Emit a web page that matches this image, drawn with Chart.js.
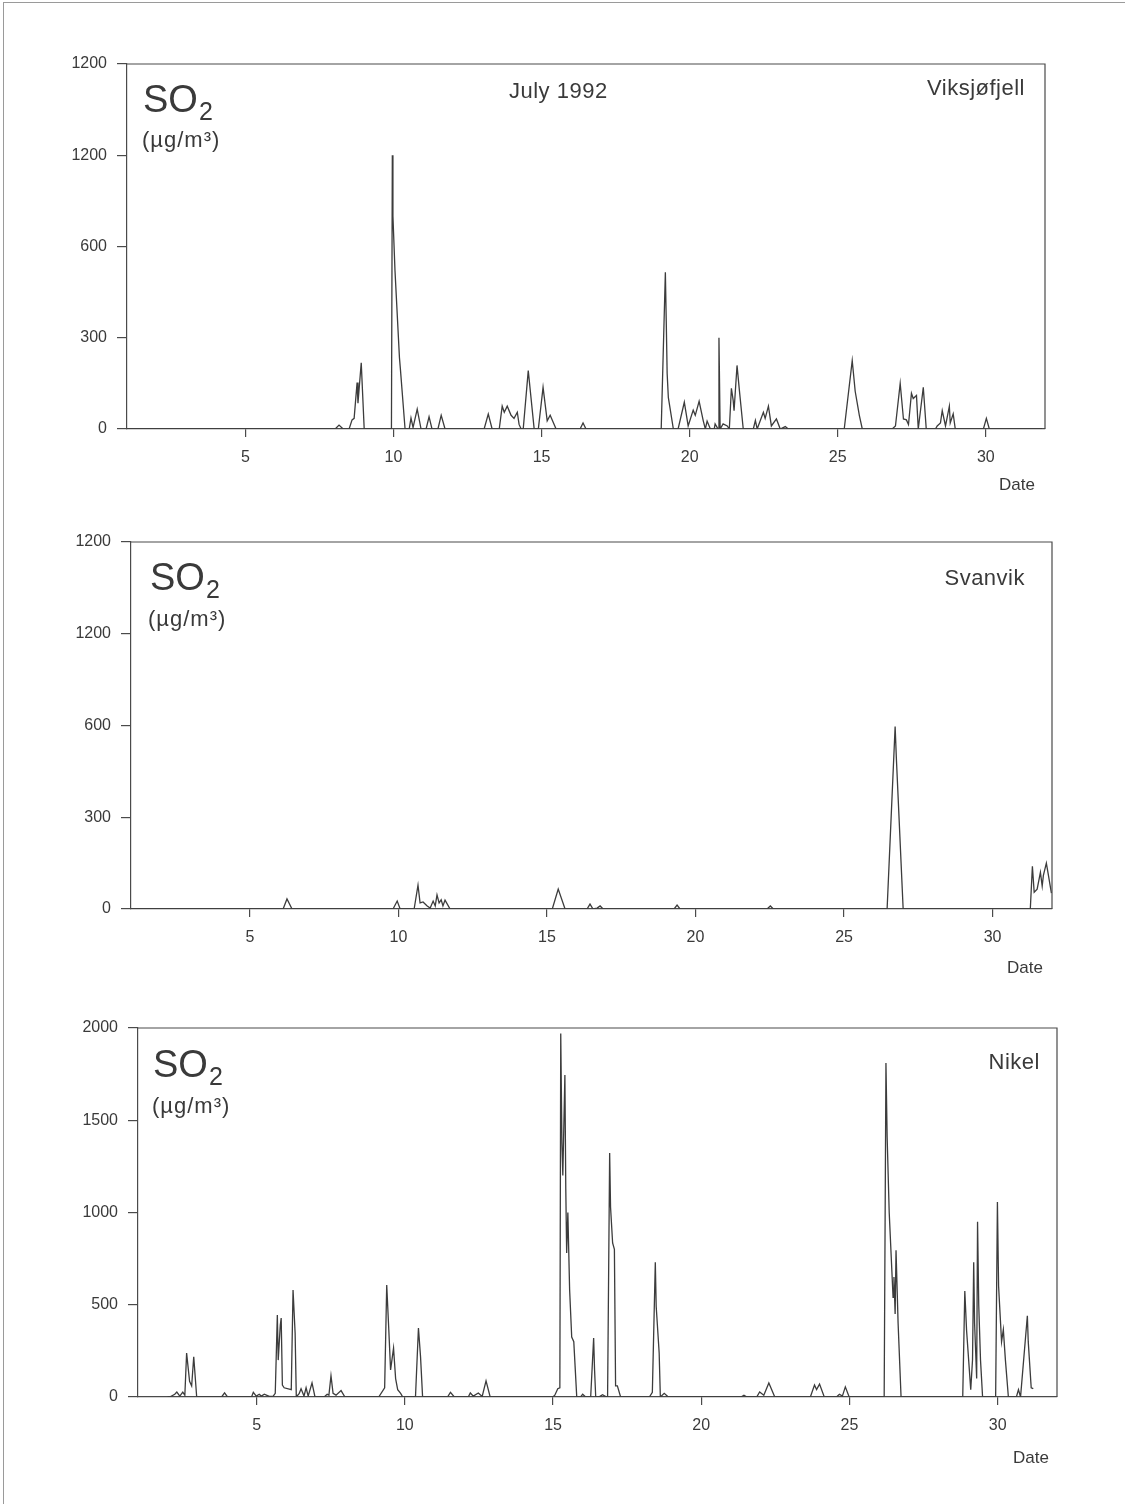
<!DOCTYPE html>
<html>
<head>
<meta charset="utf-8">
<script src="https://cdn.jsdelivr.net/npm/chart.js@4.4.1/dist/chart.umd.min.js"></script>
<style>
  body { margin: 0; width: 1125px; height: 1504px; background: #fff; position: relative; overflow: hidden;
         font-family: 'Liberation Sans', Arial, sans-serif; color: #3a3a3a; }
  .frame { position: absolute; left: 3px; top: 2px; width: 1122px; height: 1502px;
           border-left: 1px solid #9a9a9a; border-top: 1px solid #9a9a9a; box-sizing: border-box; }
  canvas { position: absolute; left: 0; }
  .lbl { position: absolute; white-space: nowrap; line-height: 1; }
  .so { font-size: 38px; }
  .so sub { font-size: 25px; vertical-align: baseline; position: relative; top: 8px; margin-left: 1px; }
  .unit { font-size: 22px; letter-spacing: 1px; }
  .big { font-size: 22px; letter-spacing: 0.5px; }
  .date { font-size: 17px; }
</style>
</head>
<body>
<div class="frame"></div>

<canvas id="chartVik" width="1125" height="480" style="top:24px"></canvas>
<canvas id="chartSvan" width="1125" height="480" style="top:502px"></canvas>
<canvas id="chartNikel" width="1125" height="480" style="top:988px"></canvas>

<!-- Viksjøfjell -->
<div class="lbl so" style="left:143px; top:80px">SO<sub>2</sub></div>
<div class="lbl unit" style="left:142px; top:129px">(µg/m³)</div>
<div class="lbl big" style="left:509px; top:80px">July 1992</div>
<div class="lbl big" style="right:100px; top:77px">Viksjøfjell</div>
<div class="lbl date" style="right:90px; top:476px">Date</div>

<!-- Svanvik -->
<div class="lbl so" style="left:150px; top:558px">SO<sub>2</sub></div>
<div class="lbl unit" style="left:148px; top:608px">(µg/m³)</div>
<div class="lbl big" style="right:100px; top:567px">Svanvik</div>
<div class="lbl date" style="right:82px; top:959px">Date</div>

<!-- Nikel -->
<div class="lbl so" style="left:153px; top:1045px">SO<sub>2</sub></div>
<div class="lbl unit" style="left:152px; top:1095px">(µg/m³)</div>
<div class="lbl big" style="right:85px; top:1051px">Nikel</div>
<div class="lbl date" style="right:76px; top:1449px">Date</div>

<script>
// ---- data: day of July 1992 (decimal) and SO2 in µg/m3 ----
var dateTicks = [5, 10, 15, 20, 25, 30];

var vikTickValues = [0, 300, 600, 900, 1200];
var vikTickLabels = ['0', '300', '600', '1200', '1200'];
var vikDates = [
  1, 8.03, 8.16, 8.30, 8.50, 8.60, 8.67, 8.77, 8.80, 8.91, 9.01,
  9.93, 9.96, 9.98, 10.05, 10.20, 10.23, 10.39,
  10.53, 10.59, 10.66, 10.80, 10.93, 11.10, 11.20, 11.30, 11.50, 11.61, 11.74,
  13.06, 13.20, 13.33,
  13.57, 13.67, 13.74, 13.84, 13.97, 14.07, 14.18, 14.24, 14.31,
  14.38, 14.55, 14.75, 14.89, 15.05, 15.19, 15.29, 15.49,
  16.30, 16.40, 16.50,
  19.04, 19.18, 19.21, 19.24, 19.28, 19.45,
  19.61, 19.82, 19.95, 20.12, 20.19, 20.32, 20.46, 20.53, 20.59, 20.70, 20.83, 20.86, 20.96,
  20.99, 21.03, 21.13, 21.27, 21.34, 21.41, 21.47, 21.50, 21.60, 21.68, 21.81,
  22.15, 22.22, 22.28, 22.49, 22.55, 22.66, 22.76, 22.93, 23.06, 23.23, 23.33,
  25.22, 25.49, 25.59, 25.70, 25.73, 25.83,
  26.84, 26.95, 27.11, 27.22, 27.32, 27.39, 27.49, 27.55, 27.66, 27.72, 27.89, 27.99,
  28.30, 28.36, 28.47, 28.53, 28.64, 28.77, 28.80, 28.90, 28.97,
  29.92, 30.02, 30.12, 31.90
];
var vikValues = [
  0, 0, 13, 0, 0, 30, 35, 153, 85, 218, 0,
  0, 900, 700, 520, 235, 200, 0,
  0, 36, 5, 65, 0, 0, 40, 0, 0, 45, 0,
  0, 49, 0,
  0, 75, 55, 75, 45, 35, 55, 15, 0,
  0, 192, 0, 0, 137, 27, 45, 0,
  0, 20, 0,
  0, 515, 355, 183, 104, 0,
  0, 88, 10, 62, 45, 91, 27, 0, 26, 0, 0, 17, 0,
  300, 0, 17, 10, 0, 134, 94, 60, 209, 127, 0,
  0, 28, 0, 55, 35, 75, 10, 33, 0, 8, 0,
  0, 225, 124, 62, 45, 0,
  0, 10, 150, 33, 30, 15, 117, 100, 110, 0, 137, 0,
  0, 10, 20, 60, 10, 75, 20, 50, 0,
  0, 35, 0, 0
];

var svanTickValues = [0, 300, 600, 900, 1200];
var svanTickLabels = ['0', '300', '600', '1200', '1200'];
var svanDates = [
  1, 6.12, 6.25, 6.42,
  9.82, 9.96, 10.06,
  10.53, 10.66, 10.73, 10.83, 10.97, 11.07, 11.17, 11.24, 11.30, 11.37, 11.44, 11.50, 11.57, 11.74,
  15.18, 15.38, 15.61,
  16.35, 16.45, 16.55, 16.69, 16.79, 16.89,
  19.28, 19.38, 19.48,
  22.41, 22.52, 22.62,
  26.45, 26.72, 26.76, 26.99,
  31.27, 31.34, 31.40, 31.50, 31.61, 31.67, 31.71, 31.81, 31.88, 31.98
];
var svanValues = [
  0, 0, 33, 0,
  0, 26, 0,
  0, 78, 20, 23, 10, 3, 26, 10, 46, 20, 30, 10, 29, 0,
  0, 65, 0,
  0, 16, 0, 3, 10, 0,
  0, 13, 0,
  0, 10, 0,
  0, 597, 496, 0,
  0, 140, 55, 65, 120, 75, 110, 150, 110, 52
];

var nikTickValues = [0, 500, 1000, 1500, 2000];
var nikTickLabels = ['0', '500', '1000', '1500', '2000'];
var nikDates = [
  2.00, 2.07, 2.24, 2.31, 2.41, 2.51, 2.58, 2.64, 2.74, 2.81, 2.88, 2.98,
  3.82, 3.92, 4.02,
  4.83, 4.89, 4.99, 5.09, 5.16, 5.26, 5.43, 5.56,
  5.63, 5.70, 5.73, 5.80, 5.83, 5.87, 5.93, 6.17, 6.23, 6.30, 6.34, 6.44, 6.50, 6.60, 6.67, 6.74, 6.87, 6.97,
  7.28, 7.38, 7.44, 7.51, 7.58, 7.68, 7.85, 7.98,
  9.12, 9.32, 9.39, 9.46, 9.52, 9.62, 9.69, 9.76, 9.86, 9.93,
  10.36, 10.46, 10.53, 10.60,
  11.44, 11.54, 11.67,
  12.14, 12.21, 12.31, 12.48, 12.61, 12.74, 12.88,
  14.99, 15.06, 15.16, 15.23, 15.26, 15.30, 15.33, 15.40, 15.43, 15.46, 15.50, 15.56, 15.63, 15.70, 15.80,
  15.93, 16.00, 16.10,
  16.27, 16.37, 16.40, 16.44,
  16.54, 16.67, 16.81,
  16.84, 16.91, 16.94, 17.01, 17.07, 17.11, 17.17, 17.28,
  18.25, 18.35, 18.45, 18.48, 18.58, 18.62, 18.75, 18.89,
  21.34, 21.44, 21.54,
  21.87, 21.97, 22.11, 22.28, 22.48,
  23.68, 23.82, 23.89, 23.99, 24.15,
  24.56, 24.66, 24.76, 24.86, 24.99,
  26.17, 26.23, 26.27, 26.34, 26.47, 26.50, 26.54, 26.57, 26.64, 26.74,
  28.82, 28.89, 28.95, 29.09, 29.15, 29.19, 29.22, 29.29, 29.32, 29.36, 29.42, 29.49,
  29.93, 29.99, 30.03, 30.13, 30.19, 30.26, 30.36,
  30.63, 30.70, 30.77, 31.00, 31.03, 31.13, 31.20
];
var nikValues = [
  0, 0, 15, 27, 5, 27, 10, 238, 85, 60, 218, 0,
  0, 22, 0,
  0, 25, 5, 15, 5, 15, 3, 5,
  20, 444, 200, 390, 428, 65, 50, 40, 580, 347, 0, 20, 45, 5, 50, 5, 76, 0,
  0, 15, 10, 115, 20, 10, 35, 0,
  0, 50, 607, 364, 147, 265, 100, 40, 20, 0,
  0, 374, 220, 0,
  0, 25, 0,
  0, 22, 5, 22, 3, 87, 0,
  0, 10, 45, 50, 1970, 1376, 1200, 1745, 1130, 780, 1000, 580, 325, 300, 0,
  0, 15, 0,
  0, 320, 150, 0,
  0, 12, 0,
  0, 1322, 1030, 835, 800, 60, 60, 0,
  0, 25, 730, 490, 240, 0, 20, 0,
  0, 10, 0,
  0, 27, 10, 76, 0,
  0, 65, 40, 70, 0,
  0, 15, 5, 55, 0,
  0, 1810, 1410, 1000, 540, 650, 450, 795, 400, 0,
  0, 575, 360, 40, 200, 730, 400, 100, 950, 500, 200, 0,
  0, 1057, 600, 300, 365, 200, 0,
  0, 40, 0, 440, 300, 50, 45
];

// ---- drawing ----
var FONT = "'Liberation Sans', Arial, sans-serif";
var INK = '#4a4a4a';

// top and right edges of the plot box
var boxPlugin = {
  id: 'box',
  afterDraw: function(chart) {
    var a = chart.chartArea, ctx = chart.ctx;
    ctx.save();
    ctx.strokeStyle = INK;
    ctx.lineWidth = 1.2;
    ctx.beginPath();
    ctx.moveTo(a.left, a.top);
    ctx.lineTo(a.right, a.top);
    ctx.lineTo(a.right, a.bottom);
    ctx.stroke();
    ctx.restore();
  }
};

function makePanel(id, dates, values, tickValues, tickLabels, g) {
  var pts = dates.map(function(d, i) { return { x: d, y: values[i] }; });
  return new Chart(document.getElementById(id), {
    type: 'line',
    data: {
      datasets: [{
        data: pts,
        borderColor: '#3c3c3c',
        borderWidth: 1.3,
        pointRadius: 0,
        tension: 0,
        fill: false
      }]
    },
    plugins: [boxPlugin],
    options: {
      responsive: false,
      devicePixelRatio: 1,
      animation: false,
      events: [],
      layout: { padding: { top: 40, right: 1125 - g.right, left: 0, bottom: 0 } },
      plugins: { legend: { display: false }, tooltip: { enabled: false } },
      scales: {
        x: {
          type: 'linear',
          min: 1,
          max: 32,
          afterFit: function(s) { s.height = g.xh; },
          afterBuildTicks: function(s) { s.ticks = dateTicks.map(function(v) { return { value: v }; }); },
          grid: { drawOnChartArea: false, tickLength: 8, color: INK, lineWidth: 1.2 },
          border: { color: INK, width: 1.2 },
          ticks: { font: { family: FONT, size: 16 }, color: '#3a3a3a', padding: 11, maxRotation: 0 }
        },
        y: {
          min: tickValues[0],
          max: tickValues[tickValues.length - 1],
          afterFit: function(s) { s.width = g.left; },
          afterBuildTicks: function(s) { s.ticks = tickValues.map(function(v) { return { value: v }; }); },
          grid: { drawOnChartArea: false, tickLength: 10, color: INK, lineWidth: 1.2 },
          border: { color: INK, width: 1.2 },
          ticks: {
            font: { family: FONT, size: 16 },
            color: '#3a3a3a',
            padding: 10,
            callback: function(v) { return tickLabels[tickValues.indexOf(v)]; }
          }
        }
      }
    }
  });
}

makePanel('chartVik', vikDates, vikValues, vikTickValues, vikTickLabels, { left: 127, right: 1045, xh: 75 });
makePanel('chartSvan', svanDates, svanValues, svanTickValues, svanTickLabels, { left: 131, right: 1052, xh: 73 });
makePanel('chartNikel', nikDates, nikValues, nikTickValues, nikTickLabels, { left: 138, right: 1057, xh: 71 });
</script>
</body>
</html>
